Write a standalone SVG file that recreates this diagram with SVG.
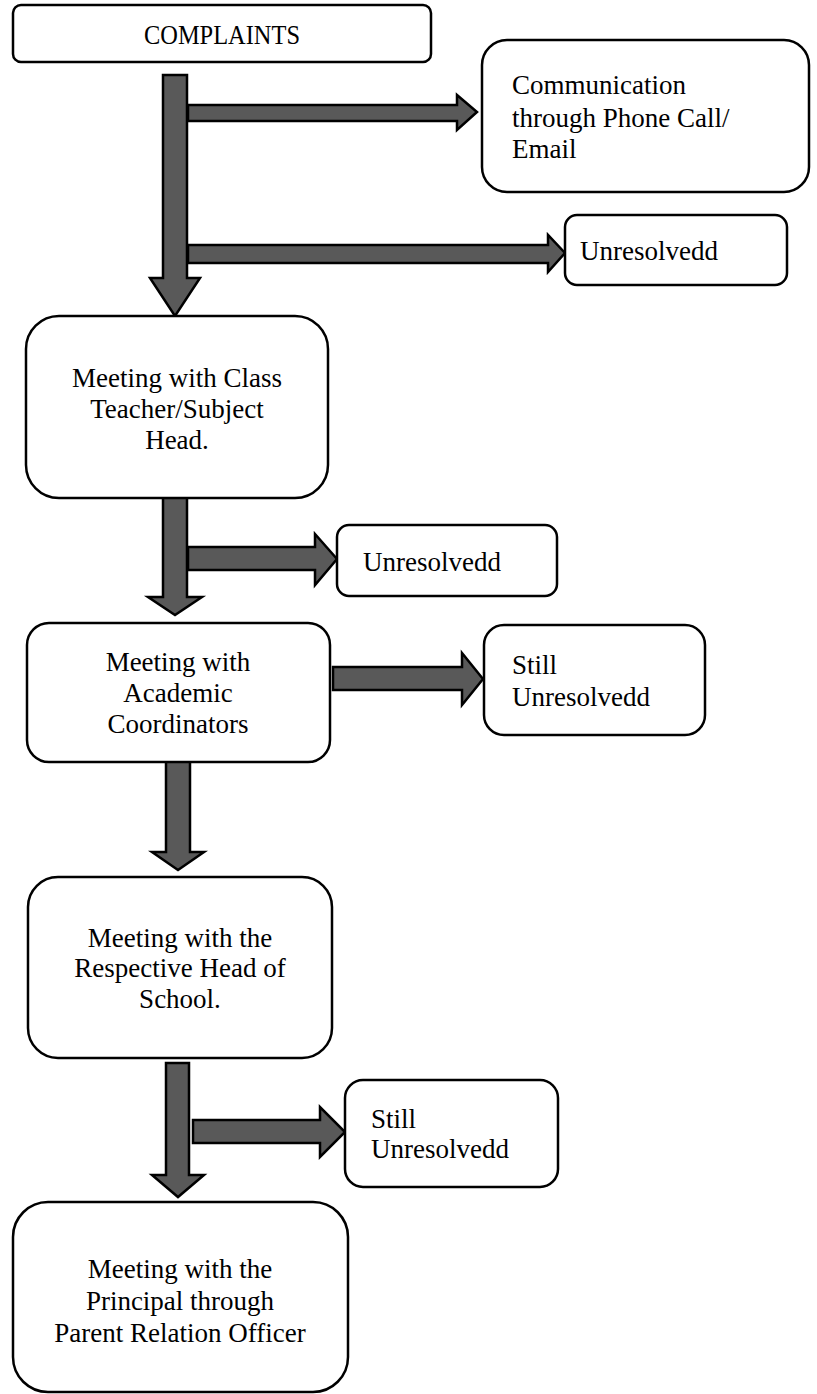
<svg xmlns="http://www.w3.org/2000/svg" width="817" height="1394" viewBox="0 0 817 1394">
<style>
.box{fill:#fff;stroke:#000;stroke-width:2.5}
.arr{fill:#595959;stroke:#000;stroke-width:2.5;stroke-linejoin:miter}
text{font-family:"Liberation Serif","Times New Roman",serif;font-size:27px;fill:#000}
.c{text-anchor:middle}
</style>
<rect width="817" height="1394" fill="#fff"/>
<g id="connectors">
<polygon class="arr" points="163,75 187,75 187,278 200,278 175,316 150,278 163,278"/>
<polygon class="arr" points="188,105 457,105 457,95 477,112 457,130 457,121 188,121"/>
<polygon class="arr" points="188,245 548,245 548,235 565,253 548,272 548,263 188,263"/>
<polygon class="arr" points="163,497 187,497 187,597 202,597 175,615 148,597 163,597"/>
<polygon class="arr" points="188,547 315,547 315,534 337,559 315,585 315,570 188,570"/>
<polygon class="arr" points="333,667 462,667 462,653 483,679 462,705 462,690 333,690"/>
<polygon class="arr" points="166,750 190,750 190,852 204,852 178,870 152,852 166,852"/>
<polygon class="arr" points="166,1063 189,1063 189,1175 204,1175 178,1197 152,1175 166,1175"/>
<polygon class="arr" points="193,1120 320,1120 320,1107 345,1132 320,1157 320,1143 193,1143"/>
</g>
<g id="complaints">
<rect class="box" x="13" y="5" width="418" height="57" rx="8"/>
<text class="c" x="222" y="44" textLength="156" lengthAdjust="spacingAndGlyphs">COMPLAINTS</text>
</g>
<g id="communication">
<rect class="box" x="482" y="40" width="327" height="152" rx="25"/>
<text x="512" y="94">Communication</text>
<text x="512" y="127">through Phone Call/</text>
<text x="512" y="158">Email</text>
</g>
<g id="unresolved1">
<rect class="box" x="565" y="215" width="222" height="70" rx="12"/>
<text x="580" y="260">Unresolvedd</text>
</g>
<g id="class-teacher">
<rect class="box" x="26" y="316" width="302" height="182" rx="33"/>
<text class="c" x="177" y="387">Meeting with Class</text>
<text class="c" x="177" y="418">Teacher/Subject</text>
<text class="c" x="177" y="449">Head.</text>
</g>
<g id="unresolved2">
<rect class="box" x="337" y="525" width="220" height="71" rx="12"/>
<text x="363" y="571">Unresolvedd</text>
</g>
<g id="academic">
<rect class="box" x="27" y="623" width="303" height="139" rx="22"/>
<text class="c" x="178" y="671">Meeting with</text>
<text class="c" x="178" y="702">Academic</text>
<text class="c" x="178" y="733">Coordinators</text>
</g>
<g id="still1">
<rect class="box" x="484" y="625" width="221" height="110" rx="20"/>
<text x="512" y="674">Still</text>
<text x="512" y="706">Unresolvedd</text>
</g>
<g id="head-of-school">
<rect class="box" x="28" y="877" width="304" height="181" rx="30"/>
<text class="c" x="180" y="947">Meeting with the</text>
<text class="c" x="180" y="977">Respective Head of</text>
<text class="c" x="180" y="1008">School.</text>
</g>
<g id="still2">
<rect class="box" x="345" y="1080" width="213" height="107" rx="18"/>
<text x="371" y="1128">Still</text>
<text x="371" y="1158">Unresolvedd</text>
</g>
<g id="principal">
<rect class="box" x="13" y="1202" width="335" height="190" rx="35"/>
<text class="c" x="180" y="1278">Meeting with the</text>
<text class="c" x="180" y="1310">Principal through</text>
<text class="c" x="180" y="1342">Parent Relation Officer</text>
</g>
</svg>
